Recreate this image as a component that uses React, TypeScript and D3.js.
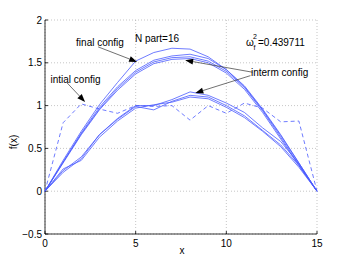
import React, { useEffect, useRef } from "react";
import * as d3 from "d3";

const xs = d3.range(0, 16);

// initial (dashed) configuration
const initial = [0, 0.8, 1.02, 0.96, 0.91, 1.0, 0.99, 1.0, 0.83, 1.0, 0.91, 1.03, 0.97, 0.81, 0.82, 0];

// upper bundle: final + intermediate
const finalCfg = [0, 0.36, 0.7, 1.01, 1.27, 1.52, 1.62, 1.67, 1.66, 1.57, 1.42, 1.22, 0.95, 0.65, 0.33, 0];
const intermA = [0, 0.34, 0.68, 0.98, 1.22, 1.41, 1.53, 1.58, 1.6, 1.55, 1.42, 1.23, 0.96, 0.66, 0.33, 0];
const intermB = [0, 0.34, 0.67, 0.96, 1.2, 1.39, 1.51, 1.56, 1.57, 1.52, 1.4, 1.21, 0.94, 0.63, 0.31, 0];
const intermC = [0, 0.33, 0.66, 0.95, 1.18, 1.37, 1.49, 1.54, 1.55, 1.5, 1.38, 1.19, 0.92, 0.61, 0.3, 0];

// lower intermediate curves
const lowerA = [0, 0.22, 0.38, 0.66, 0.85, 1.0, 1.0, 1.07, 1.16, 1.12, 1.03, 0.92, 0.74, 0.58, 0.32, 0];
const lowerB = [0, 0.24, 0.4, 0.66, 0.84, 0.99, 0.95, 1.05, 1.12, 1.1, 1.0, 0.88, 0.71, 0.54, 0.3, 0];
const lowerC = [0, 0.26, 0.36, 0.63, 0.82, 0.97, 1.01, 1.04, 1.1, 1.08, 0.98, 0.86, 0.7, 0.52, 0.28, 0];

const xTicks = [0, 5, 10, 15];
const yTicks = [-0.5, 0, 0.5, 1, 1.5, 2];

// annotation arrows [fromX, fromY, toX, toY] in data units
const arrows = [
  [2.93, 1.686, 5.08, 1.51],
  [1.22, 1.265, 2.21, 1.043],
  [11.44, 1.39, 7.73, 1.53],
  [11.33, 1.35, 8.29, 1.148],
];

const W = 350;
const H = 264;
const FONT = "'Liberation Sans', Arial, sans-serif";
const LINE = "#4a5bff";

export default function App() {
  const ref = useRef<SVGSVGElement>(null);

  useEffect(() => {
    const svg = d3.select(ref.current);
    svg.selectAll("*").remove();

    const x = d3.scaleLinear().domain([0, 15]).range([45, 317]);
    const y = d3.scaleLinear().domain([-0.5, 2]).range([234, 20]);

    // grid
    const grid = svg.append("g").attr("stroke", "#a0a0a0").attr("stroke-width", 0.6).attr("stroke-dasharray", "1,2");
    xTicks.forEach((t) => {
      grid.append("line").attr("x1", x(t)).attr("x2", x(t)).attr("y1", y(-0.5)).attr("y2", y(2));
    });
    yTicks.forEach((t) => {
      grid.append("line").attr("x1", x(0)).attr("x2", x(15)).attr("y1", y(t)).attr("y2", y(t));
    });

    // axes
    const ax = svg.append("g").attr("font-family", FONT).attr("font-size", 10).attr("fill", "#000");
    ax.append("line").attr("x1", x(0)).attr("x2", x(0)).attr("y1", y(-0.5)).attr("y2", y(2)).attr("stroke", "#000").attr("stroke-width", 0.8);
    ax.append("line").attr("x1", x(0)).attr("x2", x(15)).attr("y1", y(-0.5)).attr("y2", y(-0.5)).attr("stroke", "#000").attr("stroke-width", 0.8);
    yTicks.forEach((t) => {
      ax.append("line").attr("x1", x(0)).attr("x2", x(0) + 3).attr("y1", y(t)).attr("y2", y(t)).attr("stroke", "#000").attr("stroke-width", 0.8);
      ax.append("text").attr("x", x(0) - 3).attr("y", y(t) + 3.5).attr("text-anchor", "end").text(t < 0 ? "\u22120.5" : String(t));
    });
    xTicks.forEach((t) => {
      ax.append("line").attr("x1", x(t)).attr("x2", x(t)).attr("y1", y(-0.5)).attr("y2", y(-0.5) - 3).attr("stroke", "#000").attr("stroke-width", 0.8);
      ax.append("text").attr("x", x(t)).attr("y", y(-0.5) + 13).attr("text-anchor", "middle").text(String(t));
    });
    ax.append("text").attr("x", 182).attr("y", 254).attr("text-anchor", "middle").text("x");
    ax.append("text").attr("transform", "translate(17,142) rotate(-90)").attr("text-anchor", "middle").text("f(x)");

    // curves
    const line = d3.line<number>().x((_, i) => x(xs[i])).y((d) => y(d));
    const curves = [finalCfg, intermA, intermB, intermC, lowerA, lowerB, lowerC];
    curves.forEach((c) => {
      svg.append("path").attr("d", line(c)).attr("fill", "none").attr("stroke", LINE).attr("stroke-width", 0.8);
    });
    svg.append("path").attr("d", line(initial)).attr("fill", "none").attr("stroke", LINE).attr("stroke-width", 0.8).attr("stroke-dasharray", "4,3");

    // arrows
    arrows.forEach(([fx, fy, tx, ty]) => {
      const x1 = x(fx), y1 = y(fy), x2 = x(tx), y2 = y(ty);
      const a = Math.atan2(y2 - y1, x2 - x1);
      const L = 8, Wd = 3;
      const bx = x2 - L * Math.cos(a), by = y2 - L * Math.sin(a);
      svg.append("line").attr("x1", x1).attr("y1", y1).attr("x2", bx).attr("y2", by).attr("stroke", "#333").attr("stroke-width", 0.7);
      const pts = [
        [x2, y2],
        [bx + Wd * Math.sin(a), by - Wd * Math.cos(a)],
        [bx - Wd * Math.sin(a), by + Wd * Math.cos(a)],
      ];
      svg.append("polygon").attr("points", pts.map((p) => p.join(",")).join(" ")).attr("fill", "#000");
    });

    // labels
    const lab = svg.append("g").attr("font-family", FONT).attr("font-size", 10).attr("fill", "#000");
    lab.append("text").attr("x", 100).attr("y", 46).attr("text-anchor", "middle").text("final config");
    lab.append("text").attr("x", 75.5).attr("y", 83).attr("text-anchor", "middle").text("intial config");
    lab.append("text").attr("x", 251).attr("y", 76).text("interm config");
    lab.append("text").attr("x", 157).attr("y", 42).attr("text-anchor", "middle").text("N part=16");
    lab.append("text").attr("x", 246).attr("y", 46).text("\u03c9");
    lab.append("text").attr("x", 253).attr("y", 39).attr("font-size", 7).text("2");
    lab.append("text").attr("x", 253.5).attr("y", 50).attr("font-size", 7).text("f");
    lab.append("text").attr("x", 258).attr("y", 46).text("=0.439711");
  }, []);

  return (
    <div style={{ position: "absolute", left: 0, top: 0 }}>
      <svg ref={ref} width={W} height={H} style={{ display: "block", background: "#fff" }} />
    </div>
  );
}
